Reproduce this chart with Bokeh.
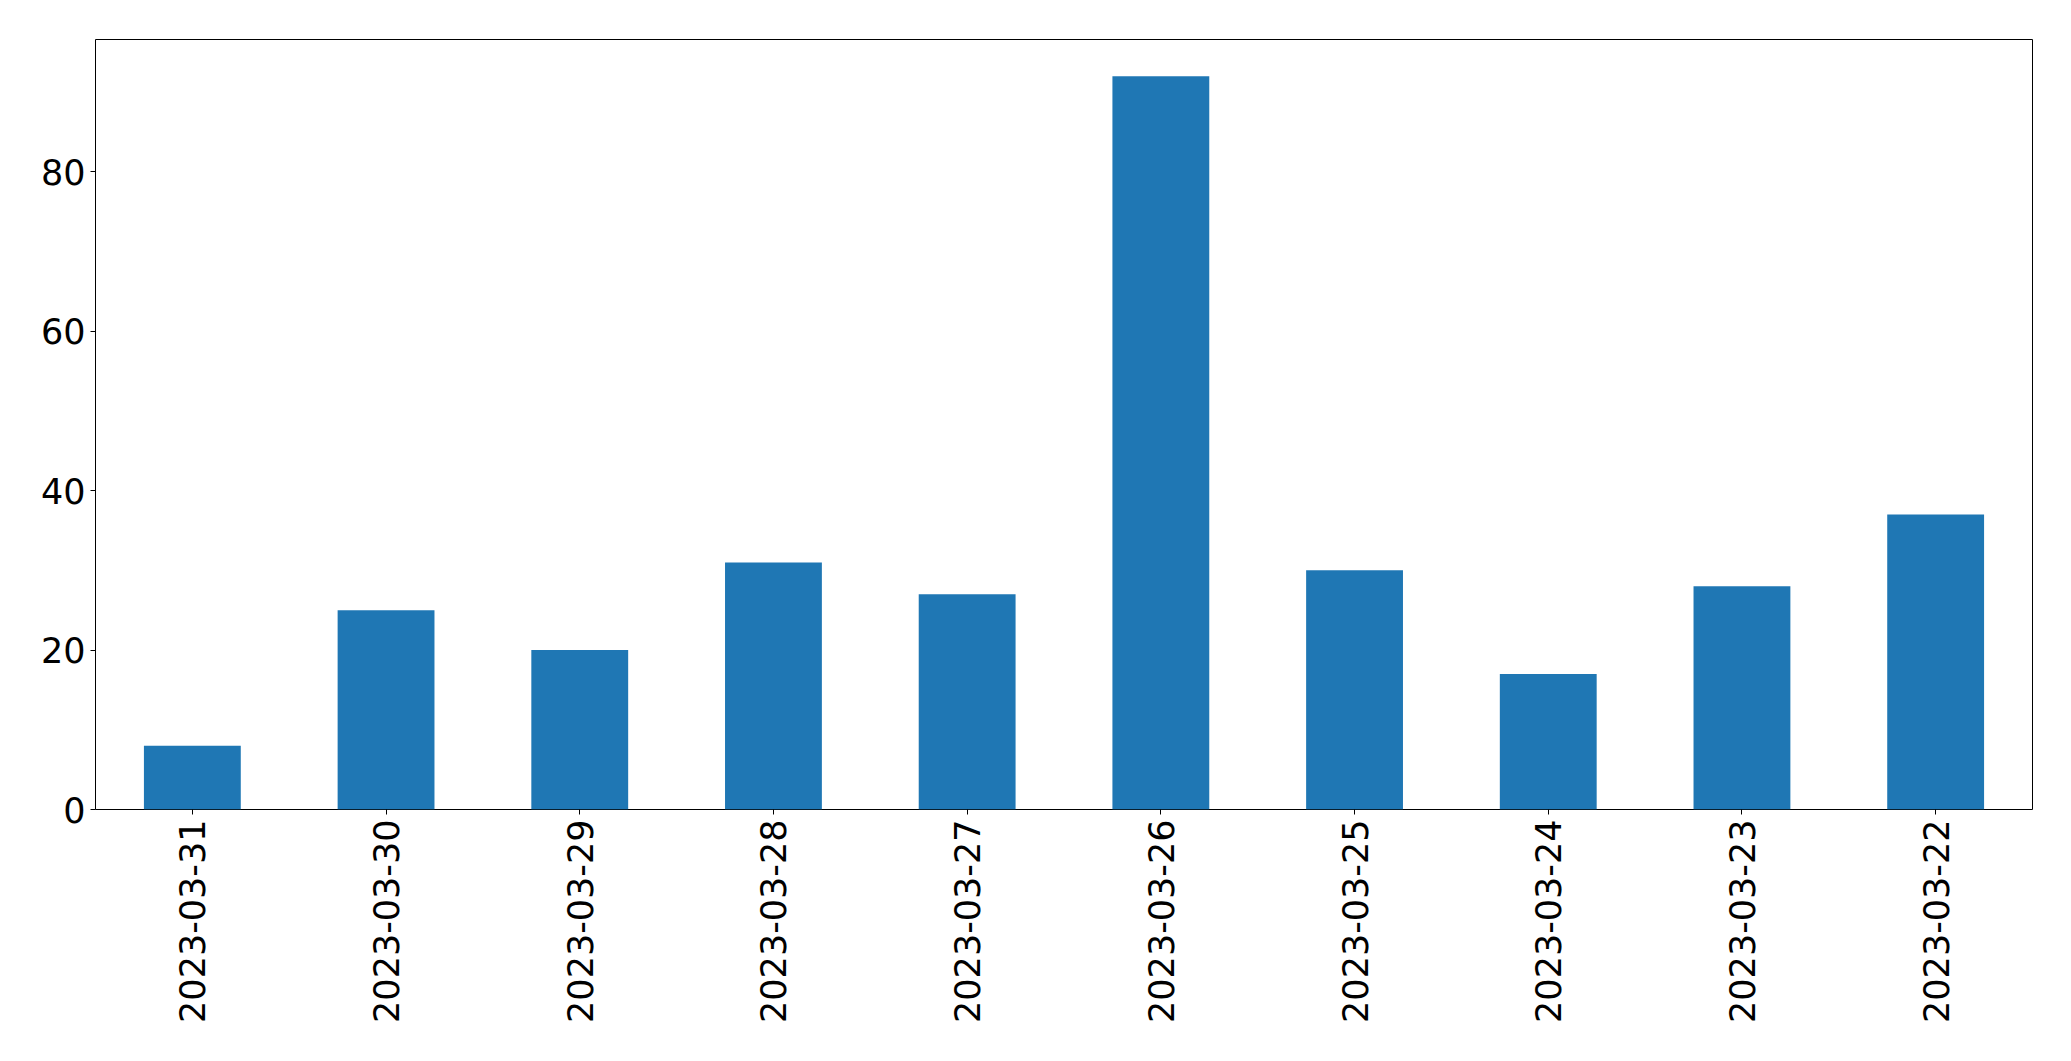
import math
from bokeh.plotting import figure
from bokeh.models import Range1d, FixedTicker
from bokeh.embed import file_html
from bokeh.resources import INLINE

dates = ["2023-03-31", "2023-03-30", "2023-03-29", "2023-03-28", "2023-03-27",
         "2023-03-26", "2023-03-25", "2023-03-24", "2023-03-23", "2023-03-22"]
counts = [8, 25, 20, 31, 27, 92, 30, 17, 28, 37]
y_ticks = [0, 20, 40, 60, 80]

p = figure(x_range=dates, y_range=Range1d(0, 96.6),
           frame_width=1937, frame_height=770,
           min_border_left=95, min_border_top=39, min_border_right=20, min_border_bottom=230,
           output_backend="svg", toolbar_location=None)

p.vbar(x=dates, top=counts, width=0.5, color="#1f77b4", line_color=None)

p.xgrid.visible = False
p.ygrid.visible = False
p.outline_line_color = "black"
p.outline_line_width = 1
p.background_fill_color = "white"
p.border_fill_color = "white"

p.x_range.range_padding = 0
p.yaxis.ticker = FixedTicker(ticks=y_ticks)

for ax in (p.xaxis[0], p.yaxis[0]):
    ax.axis_line_color = None
    ax.major_tick_in = 0
    ax.major_tick_out = 5
    ax.major_tick_line_color = "black"
    ax.minor_tick_line_color = None
    ax.major_label_text_font = "DejaVu Sans"
    ax.major_label_text_font_size = "35px"
    ax.major_label_text_color = "black"

p.xaxis.major_label_orientation = math.pi / 2
p.xaxis.major_label_standoff = 5
p.yaxis.major_label_standoff = 5

open("out.html", "w").write(file_html(p, INLINE))
